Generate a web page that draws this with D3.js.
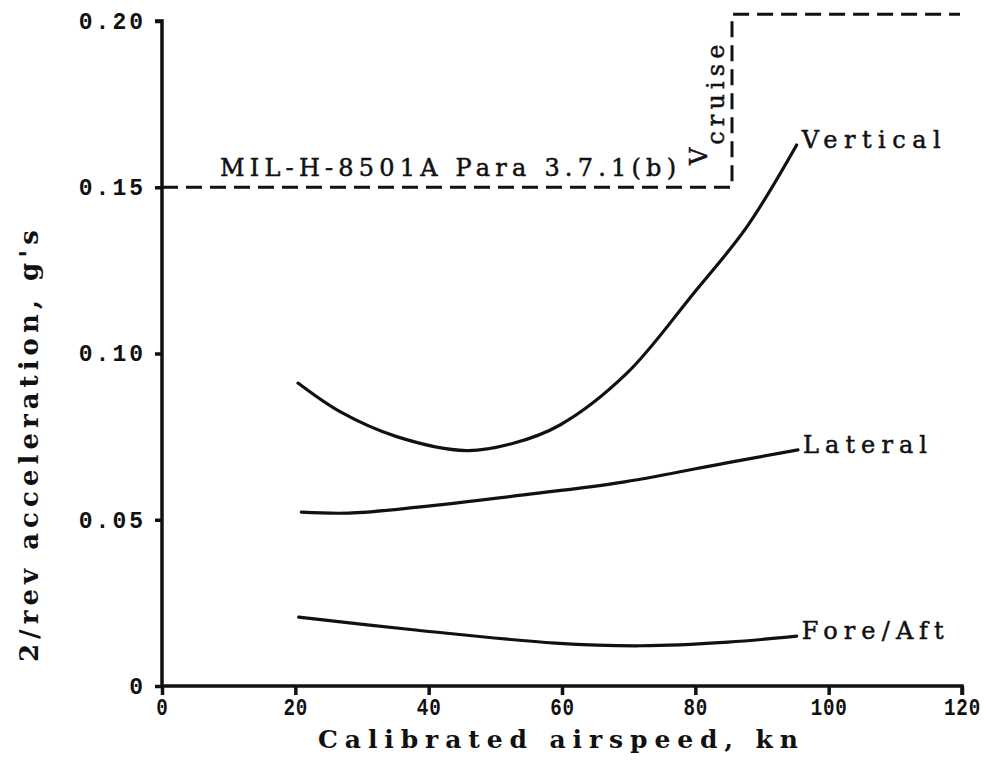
<!DOCTYPE html>
<html>
<head>
<meta charset="utf-8">
<script src="https://cdn.jsdelivr.net/npm/d3@7/dist/d3.min.js"></script>
<style>
  body { margin: 0; background: #fff; }
  text { font-family: "DejaVu Serif", "Liberation Serif", serif; fill: #111; }
  text.heavy { stroke: #111; stroke-width: 0.5px; }
</style>
</head>
<body>
<div id="chart"></div>
<script>
// data
const xTicks = [0, 20, 40, 60, 80, 100, 120];
const yTicks = [0, 0.05, 0.10, 0.15, 0.20];
const yTickLabels = ["0", "0.05", "0.10", "0.15", "0.20"];

const verticalKn = [20.4, 26.7, 35.2, 45.7, 52.7, 59.7, 69.7, 79.7, 87.7, 95.2];
const verticalG = [0.0911, 0.0825, 0.0750, 0.0708, 0.0730, 0.0785, 0.0940, 0.1180, 0.1380, 0.1627];

const lateralKn = [20.9, 28.0, 38.4, 53.9, 69.4, 84.9, 95.4];
const lateralG = [0.0523, 0.0520, 0.0538, 0.0574, 0.0614, 0.0672, 0.0710];

const foreAftKn = [20.5, 37.3, 59.0, 71.9, 84.9, 95.2];
const foreAftG = [0.0207, 0.0170, 0.0129, 0.0121, 0.0132, 0.0150];

const limitKn = [0, 85.5, 85.5, 119.7];
const limitG = [0.15, 0.15, 0.202, 0.202];

const seriesNames = ["Vertical", "Lateral", "Fore/Aft"];
const nameWidths = [139, 124, 142];

const width = 993, height = 767;
const margin = { top: 21, right: 31, bottom: 81, left: 162 };

let svg = d3.select("#chart")
  .append("svg")
  .attr("width", width)
  .attr("height", height);

let x = d3.scaleLinear().domain([0, 120]).range([margin.left, width - margin.right]);
let y = d3.scaleLinear().domain([0, 0.20]).range([height - margin.bottom, margin.top]);

// axes
let xAxis = svg.append("g")
  .attr("transform", "translate(0," + y(0) + ")")
  .call(d3.axisBottom(x).tickValues(xTicks).tickSize(9).tickPadding(0).tickFormat(d3.format("d")));
xAxis.select(".domain").attr("d", "M" + x(0) + ",0H" + x(120) + "V9");
xAxis.selectAll("text")
  .attr("dy", null)
  .attr("y", 0)
  .attr("transform", "translate(0,29) scale(0.8,1)")
  .style("font-family", "'Liberation Mono', monospace")
  .style("font-size", "24px")
  .style("font-weight", "bold")
  .style("letter-spacing", "1px");

let yAxis = svg.append("g")
  .attr("transform", "translate(" + x(0) + ",0)")
  .call(d3.axisLeft(y).tickValues(yTicks).tickSize(7).tickPadding(9).tickFormat((d, i) => yTickLabels[i]));
yAxis.select(".domain").attr("d", "M-7," + y(0.20) + "H0V" + y(0));
yAxis.selectAll("text")
  .style("font-family", "'Liberation Mono', monospace")
  .style("font-size", "23px")
  .style("font-weight", "bold")
  .style("letter-spacing", "3px");

svg.selectAll(".domain, .tick line")
  .attr("stroke", "#111")
  .attr("stroke-width", 3.5);

// axis titles
svg.append("text")
  .attr("x", 318)
  .attr("y", 748)
  .attr("textLength", 480)
  .attr("lengthAdjust", "spacing")
  .style("font-size", "25px")
  .style("font-weight", "bold")
  .text("Calibrated airspeed, kn");

svg.append("text")
  .attr("transform", "translate(38,662) rotate(-90)")
  .attr("textLength", 432)
  .attr("lengthAdjust", "spacing")
  .style("font-size", "26px")
  .style("font-weight", "bold")
  .text("2/rev acceleration, g's");

// spec limit (dashed)
let line = d3.line().x(d => x(d[0])).y(d => y(d[1]));
svg.append("path")
  .attr("d", line(d3.zip(limitKn, limitG)))
  .attr("fill", "none")
  .attr("stroke", "#111")
  .attr("stroke-width", 3)
  .attr("stroke-dasharray", "16,8");

svg.append("text")
  .attr("class", "heavy")
  .attr("x", 220)
  .attr("y", y(0.15) - 11)
  .attr("textLength", 456)
  .attr("lengthAdjust", "spacing")
  .style("font-size", "24px")
  .text("MIL-H-8501A  Para 3.7.1(b)");

let vlab = svg.append("text")
  .attr("class", "heavy")
  .attr("transform", "translate(" + (x(85.5) - 25) + ",165) rotate(-90)")
  .style("font-size", "24px");
vlab.append("tspan").text("V");
vlab.append("tspan").attr("dy", 17).attr("dx", 3).attr("textLength", 100).attr("lengthAdjust", "spacing").text("cruise");

// measured curves
let curve = d3.line()
  .x(d => x(d[0]))
  .y(d => y(d[1]))
  .curve(d3.curveCatmullRom.alpha(0.5));

let series = [
  d3.zip(verticalKn, verticalG),
  d3.zip(lateralKn, lateralG),
  d3.zip(foreAftKn, foreAftG)
];

svg.selectAll("path.series")
  .data(series)
  .enter()
  .append("path")
  .attr("class", "series")
  .attr("d", curve)
  .attr("fill", "none")
  .attr("stroke", "#111")
  .attr("stroke-width", 3.2)
  .attr("stroke-linecap", "round");

svg.selectAll("text.lbl")
  .data(series)
  .enter()
  .append("text")
  .attr("class", "lbl heavy")
  .attr("x", d => x(d[d.length - 1][0]) + 5)
  .attr("y", d => y(d[d.length - 1][1]) + 3)
  .attr("textLength", (d, i) => nameWidths[i])
  .attr("lengthAdjust", "spacing")
  .style("font-size", "24px")
  .text((d, i) => seriesNames[i]);
</script>
</body>
</html>
